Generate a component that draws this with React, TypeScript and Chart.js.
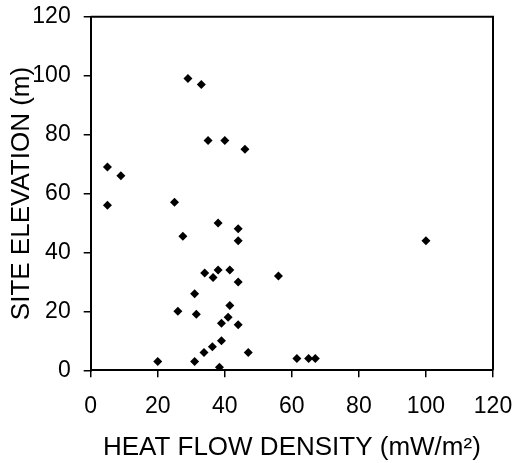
import React, { useEffect, useRef } from "react";
import { Chart, registerables } from "chart.js";

Chart.register(...registerables);

const heatFlow = [5, 9, 5, 29, 33, 35, 40, 46, 25, 27.5, 38, 44, 44, 100, 34, 36.5, 38, 41.5, 44, 56, 31, 26, 31.5, 41.5, 39, 41, 44, 39, 36.3, 33.8, 47, 20, 31, 38.4, 61.5, 65, 67];
const elevation = [69, 66, 56, 99, 97, 78, 78, 75, 57, 45.5, 50, 48, 44, 44, 33, 31.5, 34, 34, 30, 32, 26, 20, 19, 22, 16, 18, 15.5, 10, 8, 6, 6, 3, 3, 1, 4, 4, 4];
const xTicks = [0, 20, 40, 60, 80, 100, 120];
const yTicks = [0, 20, 40, 60, 80, 100, 120];
const xTitle = "HEAT FLOW DENSITY (mW/m²)";
const yTitle = "SITE ELEVATION (m)";

const FONT = "'Liberation Sans', Arial, Helvetica, sans-serif";

const framePlugin = {
  id: "frame",
  afterDatasetsDraw(chart: any) {
    const { ctx, chartArea } = chart;
    ctx.save();
    ctx.strokeStyle = "#000";
    ctx.lineWidth = 2;
    ctx.beginPath();
    ctx.moveTo(chartArea.left, chartArea.top);
    ctx.lineTo(chartArea.right, chartArea.top);
    ctx.lineTo(chartArea.right, chartArea.bottom);
    ctx.stroke();
    ctx.restore();
  },
};

function zeroPad(s: any) {
  s.paddingTop = 0;
  s.paddingBottom = 0;
  s.paddingLeft = 0;
  s.paddingRight = 0;
}

export default function App() {
  const ref = useRef<HTMLCanvasElement>(null);
  useEffect(() => {
    if (!ref.current) return;
    const points = heatFlow.map((x, i) => ({ x, y: elevation[i] }));
    const chart = new Chart(ref.current, {
      type: "scatter",
      data: {
        datasets: [
          {
            data: points,
            pointStyle: "rectRot",
            pointRadius: 4.5,
            pointBackgroundColor: "#000",
            pointBorderColor: "#000",
            pointBorderWidth: 0,
            clip: 0,
          } as any,
        ],
      },
      options: {
        animation: false,
        responsive: false,
        devicePixelRatio: 1,
        layout: { autoPadding: false, padding: { left: 0, top: 16.7, right: 21, bottom: 0 } },
        plugins: { legend: { display: false }, tooltip: { enabled: false } },
        scales: {
          x: {
            type: "linear",
            min: 0,
            max: 120,
            afterBuildTicks: (s: any) => {
              s.ticks = xTicks.map((v) => ({ value: v }));
            },
            afterFit: (s: any) => {
              s.height = 463 - 370.3;
              zeroPad(s);
            },
            grid: { drawOnChartArea: false, drawTicks: true, tickLength: 7, color: "#000", lineWidth: 1.5 },
            border: { display: true, color: "#000", width: 2, z: 1 },
            ticks: { color: "#000", padding: 16, font: { family: FONT, size: 23 }, maxRotation: 0 },
            title: { display: true, text: xTitle, color: "#000", font: { family: FONT, size: 26 }, padding: { top: 0, bottom: 0 } },
          },
          y: {
            type: "linear",
            min: 0,
            max: 120,
            afterBuildTicks: (s: any) => {
              s.ticks = yTicks.map((v) => ({ value: v }));
            },
            afterFit: (s: any) => {
              s.width = 90.7;
              zeroPad(s);
            },
            grid: { drawOnChartArea: false, drawTicks: true, tickLength: 7, color: "#000", lineWidth: 1.5 },
            border: { display: true, color: "#000", width: 2, z: 1 },
            ticks: { color: "#000", padding: 13, font: { family: FONT, size: 23 } },
            title: { display: true, text: yTitle, color: "#000", font: { family: FONT, size: 26 }, padding: { top: 6.4, bottom: 0 } },
          },
        },
      },
      plugins: [framePlugin],
    });
    return () => chart.destroy();
  }, []);
  return (
    <div style={{ position: "fixed", left: 0, top: 0, width: 514, height: 463, background: "#fff" }}>
      <canvas ref={ref} width={514} height={463} style={{ display: "block", width: 514, height: 463 }} />
    </div>
  );
}
